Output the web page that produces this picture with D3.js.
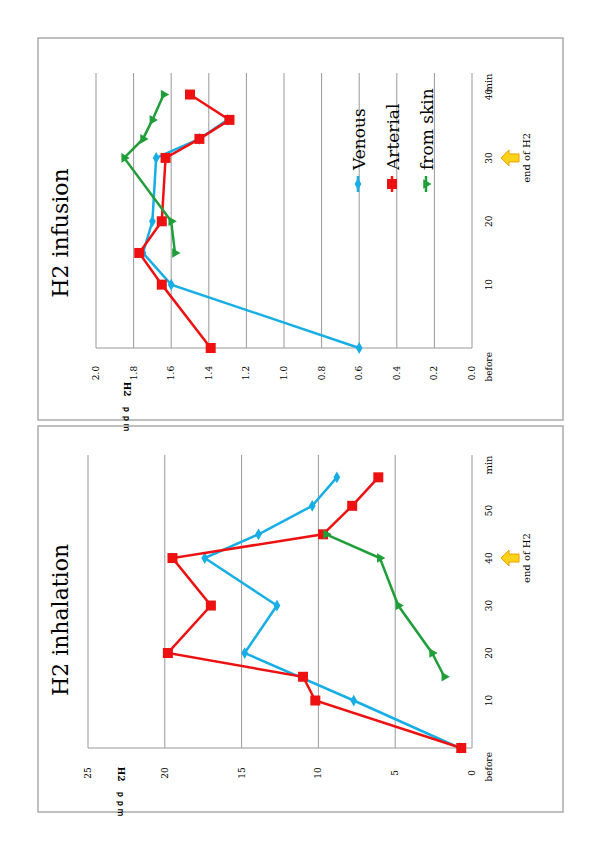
<!DOCTYPE html>
<html><head><meta charset="utf-8">
<script src="https://cdn.jsdelivr.net/npm/d3@7"></script>
<style>body{margin:0;background:#fff}text{font-family:"DejaVu Serif","Liberation Serif",serif}</style>
</head><body><svg id="c" width="600" height="849"></svg>
<script>
// Infusion panel (top)
const infVenousT = [0, 10, 15, 20, 30, 33, 36];
const infVenous = [0.60, 1.60, 1.75, 1.70, 1.68, 1.45, 1.30];
const infArterialT = [0, 10, 15, 20, 30, 33, 36, 40];
const infArterial = [1.39, 1.65, 1.77, 1.65, 1.63, 1.45, 1.29, 1.50];
const infSkinT = [15, 20, 30, 33, 36, 40];
const infSkin = [1.58, 1.60, 1.85, 1.75, 1.70, 1.64];
const infTicks = [0, 0.2, 0.4, 0.6, 0.8, 1.0, 1.2, 1.4, 1.6, 1.8, 2.0];
const infTimeTicks = [0, 10, 20, 30, 40];

// Inhalation panel (bottom)
const inhVenousT = [0, 10, 20, 30, 40, 45, 51, 57];
const inhVenous = [0.8, 7.7, 14.8, 12.7, 17.4, 13.9, 10.4, 8.8];
const inhArterialT = [0, 10, 15, 20, 30, 40, 45, 51, 57];
const inhArterial = [0.7, 10.2, 11.0, 19.8, 17.0, 19.5, 9.7, 7.8, 6.1];
const inhSkinT = [15, 20, 30, 40, 45];
const inhSkin = [1.8, 2.6, 4.8, 6.0, 9.5];
const inhTicks = [0, 5, 10, 15, 20, 25];
const inhTimeTicks = [0, 10, 20, 30, 40, 50];

const BLUE = "#17aee6", RED = "#ee1111", GREEN = "#1f9e3a";
const svg = d3.select("#c");

function marker(g, type, color, x, y) {
  if (type === "square") g.append("rect").attr("x", x - 5).attr("y", y - 5).attr("width", 10).attr("height", 10).attr("fill", color);
  else if (type === "diamond") g.append("path").attr("d", d3.symbol(d3.symbolDiamond, 40)()).attr("transform", `translate(${x},${y})`).attr("fill", color);
  else g.append("path").attr("d", d3.symbol(d3.symbolTriangle, 40)()).attr("transform", `translate(${x},${y}) rotate(90)`).attr("fill", color);
}

function panel(o) {
  const g = svg.append("g");
  g.append("rect").attr("x", 38).attr("y", o.boxTop).attr("width", 525).attr("height", o.boxH)
    .attr("fill", "none").attr("stroke", "#aaa").attr("stroke-width", 1.5);
  const x = d3.scaleLinear().domain([0, o.vmax]).range([472, o.x0]);
  const y = d3.scaleLinear().domain([0, o.tmax]).range([o.yBase, o.yTop]);
  o.vTicks.forEach(v => {
    g.append("line").attr("x1", x(v)).attr("x2", x(v)).attr("y1", o.yTop).attr("y2", o.yBase).attr("stroke", "#999");
    g.append("text").attr("transform", `translate(${x(v) + 3},${o.yBase + 25}) rotate(-90)`)
      .attr("text-anchor", "middle").attr("font-size", 9).text(o.fmt(v));
  });
  g.append("line").attr("x1", o.x0).attr("x2", 472).attr("y1", o.yBase).attr("y2", o.yBase).attr("stroke", "#999");
  o.tTicks.forEach(t => {
    g.append("text").attr("transform", `translate(${492},${y(t)}) rotate(-90)`)
      .attr("text-anchor", t === 0 ? "end" : "middle").attr("dx", t === 0 ? -4 : 0)
      .attr("font-size", 9).text(t === 0 ? "before" : t);
  });
  g.append("text").attr("transform", `translate(492,${o.yTop + 10}) rotate(-90)`).attr("text-anchor", "middle").attr("font-size", 10).text("min");
  g.append("text").attr("transform", `translate(${o.labX},${o.labY}) rotate(90)`).attr("text-anchor", "middle")
    .attr("font-size", 9).attr("font-weight", "bold").text("H2　ｐｐｍ");
  g.append("text").attr("transform", `translate(68,${o.titleY}) rotate(-90)`).attr("text-anchor", "middle")
    .attr("font-size", 22).text(o.title);
  // end of H2 arrow
  const ay = y(o.endT);
  g.append("path").attr("d", `M${501},${ay} l8,-8 v4 h10 v8 h-10 v4 z`).attr("fill", "#ffd21a").attr("stroke", "#f0a000");
  g.append("text").attr("transform", `translate(530,${ay}) rotate(-90)`).attr("text-anchor", "middle").attr("font-size", 10).text("end of H2");
  const line = d3.line().x(d => x(d[1])).y(d => y(d[0]));
  o.series.forEach(s => {
    const pts = d3.zip(s.t, s.v);
    g.append("path").attr("d", line(pts)).attr("fill", "none").attr("stroke", s.color).attr("stroke-width", 2.5);
    pts.forEach(p => marker(g, s.mark, s.color, x(p[1]), y(p[0])));
  });
  return g;
}

const infPanel = panel({
  boxTop: 38, boxH: 382, vmax: 2.0, x0: 96, yBase: 348, yTop: 73, tmax: 43.4,
  vTicks: infTicks, tTicks: infTimeTicks, fmt: d3.format(".1f"), labX: 124, labY: 407, titleY: 233,
  title: "H2 infusion", endT: 30,
  series: [
    { t: infVenousT, v: infVenous, color: BLUE, mark: "diamond" },
    { t: infArterialT, v: infArterial, color: RED, mark: "square" },
    { t: infSkinT, v: infSkin, color: GREEN, mark: "triangle" }
  ]
});
panel({
  boxTop: 426, boxH: 386, vmax: 25, x0: 88, yBase: 748, yTop: 455, tmax: 61.7,
  vTicks: inhTicks, tTicks: inhTimeTicks, fmt: d3.format("d"), labX: 118, labY: 792, titleY: 620,
  title: "H2 inhalation", endT: 40,
  series: [
    { t: inhVenousT, v: inhVenous, color: BLUE, mark: "diamond" },
    { t: inhArterialT, v: inhArterial, color: RED, mark: "square" },
    { t: inhSkinT, v: inhSkin, color: GREEN, mark: "triangle" }
  ]
});

// legend in top panel
const legend = [["Venous", BLUE, "diamond"], ["Arterial", RED, "square"], ["from skin", GREEN, "triangle"]];
legend.forEach((d, i) => {
  const lx = 358 + i * 34;
  infPanel.append("line").attr("x1", lx).attr("x2", lx).attr("y1", 176).attr("y2", 192).attr("stroke", d[1]).attr("stroke-width", 2.5);
  marker(infPanel, d[2], d[1], lx, 184);
  infPanel.append("text").attr("transform", `translate(${lx + 7},170) rotate(-90)`).attr("font-size", 17).text(d[0]);
});
</script></body></html>
